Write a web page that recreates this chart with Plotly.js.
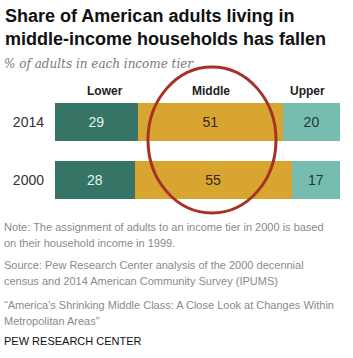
<!DOCTYPE html>
<html><head><meta charset="utf-8">
<script src="https://cdn.plot.ly/plotly-3.0.1.min.js"></script>
<style>html,body{margin:0;padding:0;background:#fff;}#chart{width:353px;height:358px;}</style>
</head><body><div id="chart"></div>
<script>
const years = ['2000', '2014'];
const tiers = ['Lower', 'Middle', 'Upper'];
const lower = [28, 29];
const middle = [55, 51];
const upper = [17, 20];
const tierColors = ['#367565', '#d8a530', '#77bdaf'];
const labelColors = ['#e2f4ee', '#2e2a1e', '#1d3b36'];
const series = [lower, middle, upper];

const W = 353, H = 358, L = 55, R = 13, T = 93, B = 149;
const pw = W - L - R, ph = H - T - B;
const px = x => (x - L) / pw;
const py = y => (H - B - y) / ph;

const traces = series.map((vals, i) => ({
  type: 'bar', orientation: 'h', name: tiers[i],
  y: years, x: vals, width: 0.655,
  marker: {color: tierColors[i], line: {width: 0}},
  text: vals.map(String), textposition: 'inside', insidetextanchor: 'middle',
  textfont: {family: 'Liberation Sans, Arial, sans-serif', size: 14, color: labelColors[i]},
  hoverinfo: 'skip', cliponaxis: false
}));

const notes = [
  {t: 'Note: The assignment of adults to an income tier in 2000 is based', y: 227},
  {t: 'on their household income in 1999.', y: 243},
  {t: 'Source: Pew Research Center analysis of the 2000 decennial', y: 265},
  {t: 'census and 2014 American Community Survey (IPUMS)', y: 281},
  {t: '\u201cAmerica\u2019s Shrinking Middle Class: A Close Look at Changes Within', y: 305},
  {t: 'Metropolitan Areas\u201d', y: 321}
];

const ann = [];
ann.push({text: '<b>Share of American adults living in</b>', x: px(3), y: py(16), xref: 'paper', yref: 'paper', xanchor: 'left', yanchor: 'middle', showarrow: false, font: {family: 'Liberation Sans, Arial, sans-serif', size: 18, color: '#111'}});
ann.push({text: '<b>middle-income households has fallen</b>', x: px(3), y: py(39), xref: 'paper', yref: 'paper', xanchor: 'left', yanchor: 'middle', showarrow: false, font: {family: 'Liberation Sans, Arial, sans-serif', size: 18, color: '#111'}});
ann.push({text: '<i>% of adults in each income tier</i>', x: px(2), y: py(64), xref: 'paper', yref: 'paper', xanchor: 'left', yanchor: 'middle', showarrow: false, font: {family: 'DejaVu Serif, serif', size: 12, color: '#777'}});
const headerX = [105, 211, 307];
tiers.forEach((t, i) => ann.push({text: '<b>' + t + '</b>', x: px(headerX[i]), y: py(91), xref: 'paper', yref: 'paper', xanchor: 'center', yanchor: 'middle', showarrow: false, font: {family: 'Liberation Sans, Arial, sans-serif', size: 12, color: '#222'}}));
notes.forEach(n => ann.push({text: n.t, x: px(2), y: py(n.y), xref: 'paper', yref: 'paper', xanchor: 'left', yanchor: 'middle', showarrow: false, font: {family: 'Liberation Sans, Arial, sans-serif', size: 11, color: '#8a8a8a'}}));
ann.push({text: 'PEW RESEARCH CENTER', x: px(2), y: py(341), xref: 'paper', yref: 'paper', xanchor: 'left', yanchor: 'middle', showarrow: false, font: {family: 'Liberation Sans, Arial, sans-serif', size: 11, color: '#111'}});

const layout = {
  width: W, height: H, margin: {l: L, r: R, t: T, b: B},
  paper_bgcolor: '#fff', plot_bgcolor: '#fff',
  barmode: 'stack', showlegend: false,
  xaxis: {range: [0, 100], visible: false, fixedrange: true},
  yaxis: {type: 'category', categoryorder: 'array', categoryarray: years, range: [-0.5, 1.5],
    showgrid: false, zeroline: false, showline: false, ticks: '', ticklabelstandoff: 10,
    tickfont: {family: 'Liberation Sans, Arial, sans-serif', size: 14, color: '#333'}},
  annotations: ann,
  shapes: [{type: 'circle', xref: 'paper', yref: 'paper', x0: px(148), x1: px(276), y0: py(213), y1: py(67),
    line: {color: '#a83126', width: 3}, fillcolor: 'rgba(0,0,0,0)'}]
};
Plotly.newPlot('chart', traces, layout, {displayModeBar: false, staticPlot: true});
</script></body></html>
